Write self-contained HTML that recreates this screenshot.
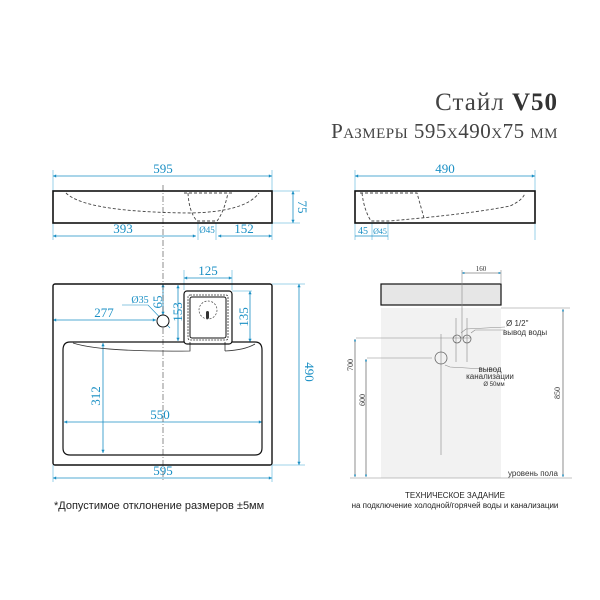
<!DOCTYPE html>
<html><head><meta charset="utf-8"><style>
body{margin:0;background:#fff}
svg{display:block}
.b{fill:#1a8fc4;font-family:"Liberation Serif",serif;font-size:13px;text-anchor:middle}
.g{font-family:"Liberation Sans",sans-serif;font-size:8px;fill:#333}
</style></head><body>
<svg width="600" height="600" viewBox="0 0 600 600" xmlns="http://www.w3.org/2000/svg">
<defs><marker id="a" viewBox="0 0 10 10" refX="10" refY="5" markerWidth="6" markerHeight="4" orient="auto-start-reverse"><path d="M0,0L10,5L0,10z" fill="#1a8fc4"/></marker></defs>
<text x="558" y="110" font-family="Liberation Serif,serif" font-size="25" fill="#444" text-anchor="end" letter-spacing="1">Стайл <tspan font-weight="bold" fill="#333">V50</tspan></text>
<text x="558" y="138" font-family="Liberation Serif,serif" font-size="21" fill="#444" text-anchor="end" style="font-variant:small-caps" letter-spacing="0.5">Размеры 595х490х75 мм</text>

<g stroke="#7fc5e3" stroke-width="0.8" fill="none">
<line x1="53" y1="170" x2="53" y2="240"/><line x1="272" y1="170" x2="272" y2="240"/>
<line x1="272" y1="191" x2="300" y2="191"/><line x1="272" y1="223" x2="300" y2="223"/>
<line x1="198" y1="223" x2="198" y2="240"/><line x1="216" y1="223" x2="216" y2="240"/>
<line x1="184" y1="270" x2="184" y2="290"/><line x1="232" y1="270" x2="232" y2="290"/>
<line x1="272" y1="284" x2="305" y2="284"/><line x1="272" y1="465" x2="305" y2="465"/>
<line x1="53" y1="465" x2="53" y2="482"/><line x1="272" y1="465" x2="272" y2="482"/>
<line x1="232" y1="291" x2="252" y2="291"/><line x1="240" y1="342" x2="252" y2="342"/>
<line x1="170" y1="284" x2="180" y2="284"/>
<line x1="355" y1="170" x2="355" y2="240"/><line x1="535" y1="170" x2="535" y2="240"/>
<line x1="372" y1="223" x2="372" y2="240"/><line x1="388" y1="223" x2="388" y2="240"/>
</g>
<g stroke="#1a8fc4" stroke-width="0.8" fill="none" marker-start="url(#a)" marker-end="url(#a)">
<line x1="53" y1="176" x2="272" y2="176"/>
<line x1="293" y1="191" x2="293" y2="223"/>
<line x1="53" y1="236" x2="196" y2="236"/>
<line x1="218" y1="236" x2="272" y2="236"/>
<line x1="184" y1="278" x2="232" y2="278"/>
<line x1="53" y1="320" x2="156" y2="320"/>
<line x1="299" y1="284" x2="299" y2="465"/>
<line x1="103" y1="343" x2="103" y2="453"/>
<line x1="64" y1="422" x2="262" y2="422"/>
<line x1="53" y1="478" x2="272" y2="478"/>
<line x1="250" y1="291" x2="250" y2="342"/>
<line x1="178" y1="285" x2="178" y2="341"/>
<line x1="163" y1="284" x2="163" y2="315"/>
<line x1="355" y1="176" x2="535" y2="176"/>
</g>
<g stroke="#1a8fc4" stroke-width="0.8">
<line x1="355" y1="236" x2="372" y2="236" /><line x1="372" y1="236" x2="388" y2="236"/>
</g>
<text class="b" x="163" y="173">595</text>
<text class="b" x="123" y="233">393</text>
<text class="b" x="207" y="233" style="font-size:9px">Ø45</text>
<text class="b" x="244" y="233">152</text>
<text class="b" x="0" y="0" transform="translate(298,207) rotate(90)">75</text>
<text class="b" x="208" y="275">125</text>
<text class="b" x="140" y="303" style="font-size:10px">Ø35</text>
<line x1="122" y1="305" x2="148" y2="305" stroke="#1a8fc4" stroke-width="0.6"/>
<line x1="148" y1="305" x2="170" y2="328" stroke="#1a8fc4" stroke-width="0.6"/>
<text class="b" x="0" y="0" transform="translate(162,302) rotate(-90)">65</text>
<text class="b" x="0" y="0" transform="translate(182,312) rotate(-90)">153</text>
<text class="b" x="0" y="0" transform="translate(248,317) rotate(-90)">135</text>
<text class="b" x="104" y="317">277</text>
<text class="b" x="0" y="0" transform="translate(305,372) rotate(90)">490</text>
<text class="b" x="0" y="0" transform="translate(100,396) rotate(-90)">312</text>
<text class="b" x="160" y="419">550</text>
<text class="b" x="163" y="475">595</text>
<text class="b" x="445" y="173">490</text>
<text class="b" x="363" y="234" style="font-size:10px">45</text>
<text class="b" x="380" y="234" style="font-size:8px">Ø45</text>

<line x1="163" y1="185" x2="163" y2="260" stroke="#444" stroke-width="0.6" stroke-dasharray="6,2,1,2"/>
<rect x="53" y="191" width="219" height="32" fill="none" stroke="#111" stroke-width="1.6"/>
<g fill="none" stroke="#444" stroke-width="0.9" stroke-dasharray="3,2">
<path d="M66,193 Q85,212 190,213 Q245,212 259,193"/>
<path d="M184,193 L232,193 M188,193 Q189,212 197,221 L217,221 Q224,212 228,193"/>
<path d="M360,193 L417,193 L424,218 M362,193 Q364,210 371,221 L389,221 Q470,214 510,206 Q523,200 525,193"/>
</g>
<rect x="355" y="191" width="180" height="32" fill="none" stroke="#111" stroke-width="1.6"/>

<line x1="163" y1="262" x2="163" y2="480" stroke="#444" stroke-width="0.6" stroke-dasharray="6,2,1,2"/>
<rect x="53" y="284" width="219" height="181" rx="2" fill="none" stroke="#111" stroke-width="1.4"/>
<path d="M184,342 L70,342 Q63,342 63,350 L63,448 Q63,455 70,455 L255,455 Q262,455 262,448 L262,350 Q262,342 255,342 L232,342" fill="none" stroke="#111" stroke-width="1.2"/>
<path d="M73,343 Q100,352 190,351 L190,342 M225,351 L225,342 M225,351 Q245,350 255,344" fill="none" stroke="#333" stroke-width="0.8"/>
<rect x="184" y="291" width="48" height="53" rx="3" fill="none" stroke="#111" stroke-width="1.2"/>
<rect x="188" y="295" width="40" height="45" rx="2" fill="none" stroke="#333" stroke-width="0.8" stroke-dasharray="2,1"/>
<rect x="190" y="297" width="36" height="41" rx="2" fill="none" stroke="#111" stroke-width="1"/>
<circle cx="208" cy="310" r="9" fill="none" stroke="#444" stroke-width="0.7" stroke-dasharray="2,1.5"/>
<rect x="206" y="311" width="3" height="8" rx="1.5" fill="#333"/>
<circle cx="163" cy="321" r="6" fill="#fff" stroke="#111" stroke-width="1"/>
<text x="54" y="509" font-family="Liberation Sans,sans-serif" font-size="11" fill="#222">*Допустимое отклонение размеров ±5мм</text>

<rect x="381" y="308" width="120" height="170" fill="#f2f2f2"/>
<rect x="381" y="284" width="120" height="21" fill="#e6e6e6" stroke="#111" stroke-width="1.2"/>
<g stroke="#888" stroke-width="0.6" fill="none">
<line x1="462" y1="270" x2="462" y2="338"/><line x1="501" y1="270" x2="501" y2="284"/>
<line x1="356" y1="338" x2="470" y2="338"/>
<line x1="367" y1="358" x2="432" y2="358"/>
<line x1="441" y1="334" x2="441" y2="455"/>
<line x1="456" y1="318" x2="456" y2="362"/><line x1="467" y1="318" x2="467" y2="362"/>
<line x1="501" y1="308" x2="570" y2="308"/>
<line x1="350" y1="478" x2="572" y2="478"/>
<path d="M461,333 L466,329 L505,327 M471,333 L475,330 L505,330"/>
<path d="M445,365 L450,367 L500,370"/>
</g>
<circle cx="457" cy="339" r="4" fill="none" stroke="#666" stroke-width="0.8"/>
<circle cx="467" cy="339" r="4" fill="none" stroke="#666" stroke-width="0.8"/>
<circle cx="441" cy="358" r="6" fill="none" stroke="#666" stroke-width="0.8"/>
<g stroke="#444" stroke-width="0.6" marker-start="url(#a)" marker-end="url(#a)">
<line x1="462" y1="273" x2="501" y2="273"/>
<line x1="355" y1="339" x2="355" y2="477"/>
<line x1="366" y1="359" x2="366" y2="477"/>
<line x1="563" y1="309" x2="563" y2="477"/>
</g>
<text x="481" y="271" font-family="Liberation Serif,serif" font-size="7" text-anchor="middle" fill="#333">160</text>
<text x="0" y="0" transform="translate(353,365) rotate(-90)" font-family="Liberation Serif,serif" font-size="8" fill="#333" text-anchor="middle">700</text>
<text x="0" y="0" transform="translate(365,400) rotate(-90)" font-family="Liberation Serif,serif" font-size="8" fill="#333" text-anchor="middle">600</text>
<text x="0" y="0" transform="translate(560,393) rotate(-90)" font-family="Liberation Serif,serif" font-size="8" fill="#333" text-anchor="middle">850</text>
<text class="g" x="506" y="326">Ø 1/2"</text>
<text class="g" x="503" y="335">вывод воды</text>
<text class="g" x="490" y="372" text-anchor="middle">вывод</text>
<text class="g" x="490" y="379" text-anchor="middle">канализации</text>
<text class="g" x="494" y="386" text-anchor="middle" style="font-size:6px">Ø 50мм</text>
<text class="g" x="508" y="476">уровень пола</text>
<text x="455" y="498" font-family="Liberation Sans,sans-serif" font-size="8" fill="#222" text-anchor="middle">ТЕХНИЧЕСКОЕ ЗАДАНИЕ</text>
<text x="455" y="508" font-family="Liberation Sans,sans-serif" font-size="8" fill="#222" text-anchor="middle">на подключение холодной/горячей воды и канализации</text>
</svg>
</body></html>
